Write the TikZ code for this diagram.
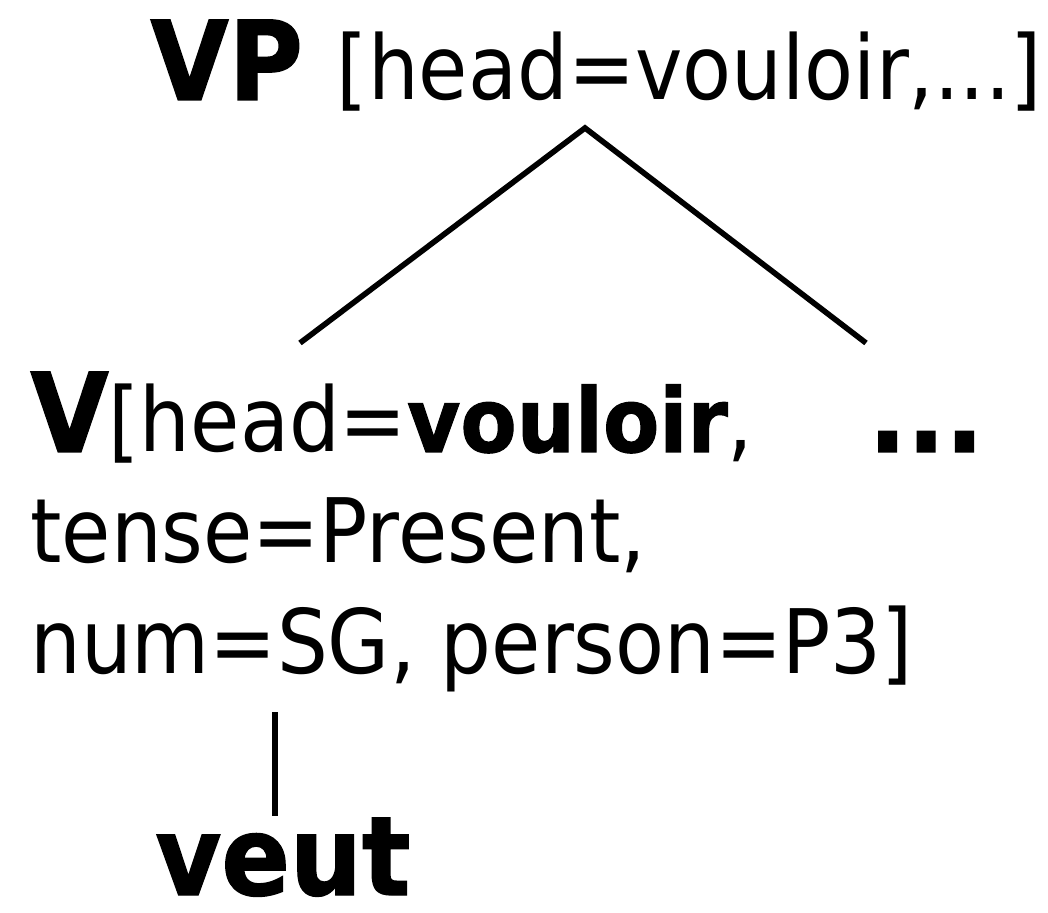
\documentclass[tikz,border=0pt]{standalone}
\usepackage{fontspec}
\setmainfont{DejaVu Sans}[FakeStretch=0.9,BoldFeatures={FakeStretch=0.92,FakeBold=1.2}]
\newcommand{\bigbf}{\fontsize{55}{60}\selectfont\bfseries}
\newcommand{\feat}{\fontsize{44.5}{50}\selectfont\mdseries}
\begin{document}
\begin{tikzpicture}[x=0.5pt,y=-0.5pt,every node/.style={anchor=base west,inner sep=0pt},
  branch/.style={line width=2.8pt}]
\useasboundingbox (0,0) rectangle (1048,913);
\node (vp) at (150,100) {\bigbf VP\hspace{17pt}\feat[head=vouloir,...]};
\node (v1) at (30,452) {\bigbf V\feat[head=\bfseries vouloir\mdseries,};
\node (v2) at (30,563) {\feat tense=Present,};
\node (v3) at (30,673) {\feat num=SG, person=P3]};
\node (dots) at (868,452) {\bigbf ...};
\node (veut) at (155,895) {\bigbf veut};
\coordinate (top) at (585,128);
\coordinate (vleft) at (300,343);
\coordinate (vright) at (866,343);
\coordinate (lex) at (275,712);
\coordinate (lexend) at (275,816);
\draw [branch] (vleft) -- (top) -- (vright);
\draw [branch] (lex) -- (lexend);
\end{tikzpicture}
\end{document}
